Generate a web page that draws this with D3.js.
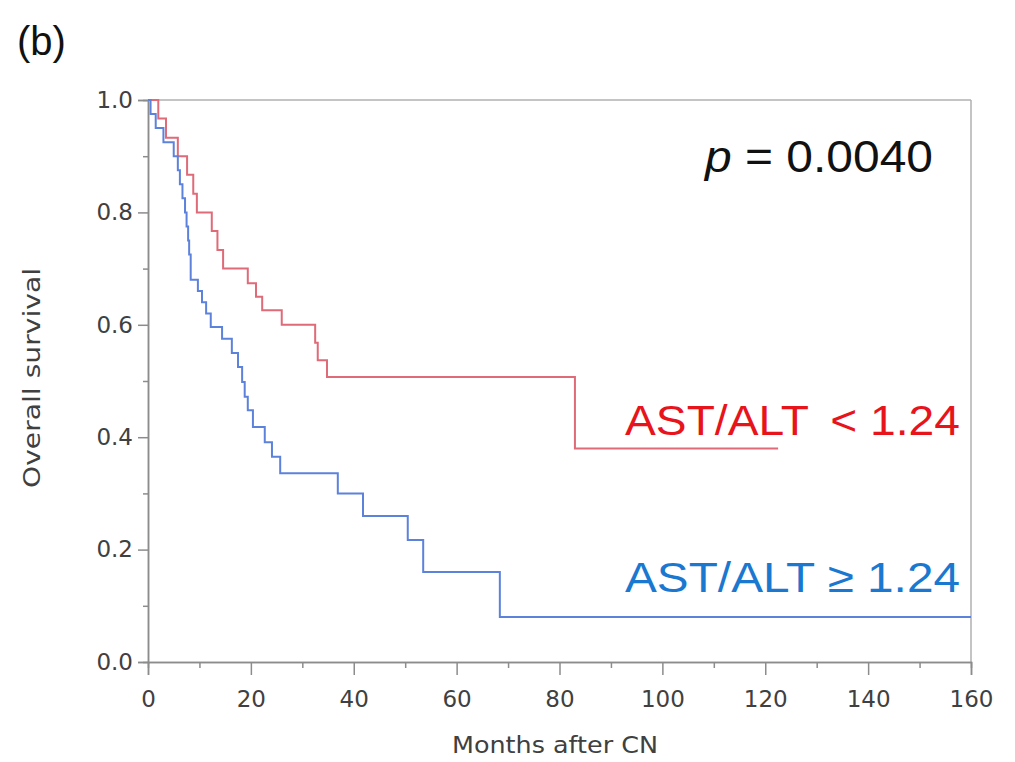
<!DOCTYPE html>
<html><head><meta charset="utf-8">
<script src="https://cdn.jsdelivr.net/npm/d3@7/dist/d3.min.js"></script>
<style>body{margin:0;background:#fff;} svg{display:block;}</style>
</head><body>
<svg id="chart" width="1015" height="762"></svg>
<script>
// Kaplan-Meier steps: [month, survival]
const redTimes = [0, 2, 3.5, 5.8, 7.6, 8.8, 9.5, 12.4, 13.5, 14.6, 19.4, 21, 22.2, 26, 32.5, 33, 34.8, 83, 122.5];
const redSurv  = [1.0, 0.967, 0.933, 0.9, 0.867, 0.833, 0.8, 0.767, 0.733, 0.70, 0.674, 0.65, 0.626, 0.60, 0.568, 0.537, 0.507, 0.38, 0.38];
const blueTimes = [0, 0.5, 1.5, 3, 5.0, 5.8, 6.2, 6.7, 7.2, 7.5, 7.8, 8.0, 8.3, 9.7, 10.5, 11.3, 12.2, 14.4, 16.3, 17.5, 18.3, 18.8, 19.4, 20.4, 22.7, 24.1, 25.7, 36.9, 41.8, 50.5, 53.5, 68.4, 160];
const blueSurv  = [1.0, 0.975, 0.95, 0.925, 0.90, 0.875, 0.85, 0.825, 0.80, 0.775, 0.75, 0.725, 0.68, 0.66, 0.64, 0.62, 0.596, 0.575, 0.55, 0.525, 0.498, 0.472, 0.448, 0.418, 0.391, 0.365, 0.336, 0.30, 0.26, 0.217, 0.16, 0.08, 0.08];
const xTicks = [0, 20, 40, 60, 80, 100, 120, 140, 160];
const yTicks = [0.0, 0.2, 0.4, 0.6, 0.8, 1.0];
const seriesLabels = ["AST/ALT \u2009< 1.24", "AST/ALT \u2265 1.24"];
const pValue = "0.0040";

const svg = d3.select("#chart");
const x = d3.scaleLinear().domain([0, 160]).range([148, 971]);
const y = d3.scaleLinear().domain([0, 1]).range([662, 100]);
const font = "'DejaVu Sans', Verdana, sans-serif";
const arial = "Arial, 'Liberation Sans', sans-serif";
const axisCol = "#8c8c8c";

// frame top/right
svg.append("line").attr("x1", x(0)).attr("x2", x(160)).attr("y1", y(1)).attr("y2", y(1)).attr("stroke", "#b0b0b0").attr("stroke-width", 1.5);
svg.append("line").attr("x1", x(160)).attr("x2", x(160)).attr("y1", y(1)).attr("y2", y(0)).attr("stroke", "#b0b0b0").attr("stroke-width", 1.5);

// x axis
const xAxis = svg.append("g").attr("transform", `translate(0,${y(0)})`)
  .call(d3.axisBottom(x).tickValues(xTicks).tickFormat(d3.format("d")).tickSize(13).tickPadding(16));
const xMinor = svg.append("g").attr("transform", `translate(0,${y(0)})`)
  .call(d3.axisBottom(x).tickValues(d3.range(10, 160, 20)).tickFormat("").tickSize(6));
// y axis
const yAxis = svg.append("g").attr("transform", `translate(${x(0)},0)`)
  .call(d3.axisLeft(y).tickValues(yTicks).tickFormat(d3.format(".1f")).tickSize(10).tickPadding(5));
const yMinor = svg.append("g").attr("transform", `translate(${x(0)},0)`)
  .call(d3.axisLeft(y).tickValues([0.1, 0.3, 0.5, 0.7, 0.9]).tickFormat("").tickSize(5));
[xAxis, xMinor, yAxis, yMinor].forEach(g => {
  g.select(".domain").attr("stroke", axisCol).attr("stroke-width", 1.5);
  g.selectAll(".tick line").attr("stroke", axisCol).attr("stroke-width", 1.5);
  g.selectAll(".tick text").attr("font-family", font).attr("font-size", 23).attr("fill", "#404040");
});

// curves
function stepData(ts, ss) { return ts.map((t, i) => [t, ss[i]]); }
const line = d3.line().x(d => x(d[0])).y(d => y(d[1])).curve(d3.curveStepAfter);
svg.append("path").datum(stepData(redTimes, redSurv)).attr("d", line)
  .attr("fill", "none").attr("stroke", "#df6a78").attr("stroke-width", 2);
svg.append("path").datum(stepData(blueTimes, blueSurv)).attr("d", line)
  .attr("fill", "none").attr("stroke", "#5d82dc").attr("stroke-width", 2);

// axis titles
svg.append("text").attr("x", 452).attr("y", 753)
  .attr("font-family", font).attr("font-size", 23).attr("fill", "#404040")
  .attr("textLength", 206).attr("lengthAdjust", "spacingAndGlyphs").text("Months after CN");
svg.append("text").attr("transform", "translate(40,488) rotate(-90)")
  .attr("font-family", font).attr("font-size", 23).attr("fill", "#404040")
  .attr("textLength", 220).attr("lengthAdjust", "spacingAndGlyphs").text("Overall survival");

// panel label
svg.append("text").attr("x", 17).attr("y", 55).attr("font-family", arial)
  .attr("font-size", 40).attr("fill", "#111").text("(b)");

// p-value
const pt = svg.append("text").attr("x", 705).attr("y", 172).attr("font-family", arial)
  .attr("font-size", 44).attr("fill", "#111")
  .attr("textLength", 228).attr("lengthAdjust", "spacingAndGlyphs");
pt.append("tspan").attr("font-style", "italic").text("p");
pt.append("tspan").text(" = " + pValue);

// series labels
svg.append("text").attr("x", 625).attr("y", 435)
  .attr("font-family", arial).attr("font-size", 42).attr("fill", "#e8141c")
  .attr("textLength", 335).attr("lengthAdjust", "spacingAndGlyphs").text(seriesLabels[0]);
svg.append("text").attr("x", 625).attr("y", 592)
  .attr("font-family", arial).attr("font-size", 42).attr("fill", "#1b78d0")
  .attr("textLength", 335).attr("lengthAdjust", "spacingAndGlyphs").text(seriesLabels[1]);
</script>
</body></html>
